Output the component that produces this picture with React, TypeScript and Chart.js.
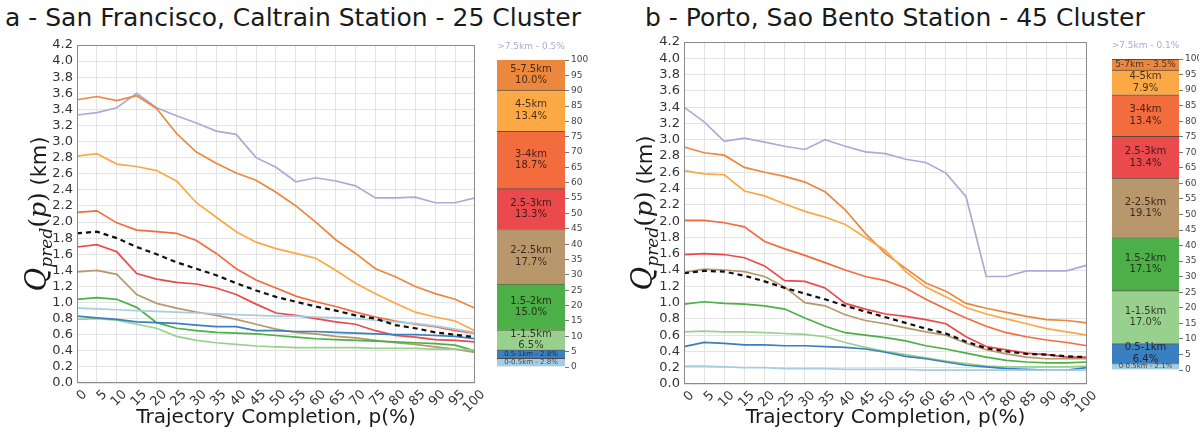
import React, { useEffect, useRef } from "react";
import { Chart, registerables } from "chart.js";

Chart.register(...registerables);

// ---------- data ----------
const completion = [0, 5, 10, 15, 20, 25, 30, 35, 40, 45, 50, 55, 60, 65, 70, 75, 80, 85, 90, 95, 100];

// band order: bottom (shortest) -> top (longest)
const bandNamesSF = ["0-0.5km", "0.5-1km", "1-1.5km", "1.5-2km", "2-2.5km", "2.5-3km", "3-4km", "4-5km", "5-7.5km", ">7.5km"];
const bandNamesPT = ["0-0.5km", "0.5-1km", "1-1.5km", "1.5-2km", "2-2.5km", "2.5-3km", "3-4km", "4-5km", "5-7km", ">7.5km"];
const bandSharesSF = [2.8, 2.8, 6.5, 15.0, 17.7, 13.3, 18.7, 13.4, 10.0, 0.5];
const bandSharesPT = [2.1, 6.4, 17.0, 17.1, 19.1, 13.4, 13.4, 7.9, 3.5, 0.1];
const bandColors = ["#a6cee3", "#3a7fbf", "#98d18e", "#4daf47", "#b8976c", "#ea4a4c", "#f26c3e", "#fca845", "#ec883d", "#b1a8d7"];

// San Francisco quantile curves (km)
const sf0to05 = [0.93, 0.92, 0.91, 0.90, 0.89, 0.88, 0.87, 0.86, 0.85, 0.84, 0.83, 0.83, 0.82, 0.81, 0.80, 0.78, 0.76, 0.74, 0.71, 0.67, 0.63];
const sf05to1 = [0.83, 0.81, 0.79, 0.76, 0.75, 0.74, 0.72, 0.70, 0.70, 0.65, 0.65, 0.64, 0.64, 0.63, 0.62, 0.61, 0.60, 0.60, 0.59, 0.58, 0.55];
const sf1to15 = [0.79, 0.80, 0.78, 0.73, 0.68, 0.58, 0.53, 0.50, 0.48, 0.46, 0.45, 0.44, 0.44, 0.44, 0.44, 0.43, 0.43, 0.43, 0.42, 0.42, 0.41];
const sf15to2 = [1.04, 1.06, 1.04, 0.94, 0.75, 0.68, 0.65, 0.63, 0.62, 0.61, 0.59, 0.57, 0.55, 0.54, 0.53, 0.52, 0.51, 0.50, 0.49, 0.47, 0.40];
const sf2to25 = [1.38, 1.40, 1.35, 1.10, 0.99, 0.93, 0.88, 0.84, 0.79, 0.73, 0.67, 0.63, 0.61, 0.58, 0.56, 0.53, 0.50, 0.48, 0.45, 0.42, 0.38];
const sf25to3 = [1.69, 1.72, 1.63, 1.36, 1.29, 1.25, 1.23, 1.18, 1.10, 0.98, 0.87, 0.84, 0.80, 0.76, 0.73, 0.65, 0.59, 0.57, 0.54, 0.53, 0.51];
const sf3to4 = [2.12, 2.14, 1.99, 1.90, 1.88, 1.86, 1.77, 1.61, 1.42, 1.28, 1.18, 1.08, 1.01, 0.95, 0.88, 0.82, 0.77, 0.73, 0.70, 0.65, 0.62];
const sf4to5 = [2.82, 2.85, 2.72, 2.69, 2.64, 2.51, 2.24, 2.06, 1.88, 1.75, 1.67, 1.61, 1.55, 1.40, 1.24, 1.11, 0.99, 0.88, 0.82, 0.77, 0.65];
const sf5to75 = [3.52, 3.56, 3.51, 3.57, 3.41, 3.10, 2.87, 2.73, 2.61, 2.52, 2.37, 2.20, 2.00, 1.78, 1.61, 1.42, 1.32, 1.20, 1.11, 1.04, 0.93];
const sfOver75 = [3.33, 3.36, 3.42, 3.60, 3.42, 3.32, 3.23, 3.13, 3.09, 2.80, 2.68, 2.50, 2.55, 2.51, 2.45, 2.30, 2.30, 2.31, 2.24, 2.24, 2.30];
const sfMean = [1.86, 1.88, 1.80, 1.69, 1.60, 1.50, 1.42, 1.34, 1.24, 1.15, 1.07, 1.01, 0.95, 0.90, 0.84, 0.80, 0.72, 0.68, 0.63, 0.60, 0.57];

// Porto quantile curves (km)
const pt0to05 = [0.22, 0.22, 0.21, 0.20, 0.20, 0.19, 0.19, 0.19, 0.18, 0.18, 0.18, 0.18, 0.17, 0.17, 0.17, 0.17, 0.17, 0.17, 0.17, 0.17, 0.17];
const pt05to1 = [0.46, 0.51, 0.50, 0.48, 0.48, 0.47, 0.47, 0.46, 0.45, 0.43, 0.39, 0.34, 0.31, 0.27, 0.23, 0.21, 0.19, 0.18, 0.17, 0.17, 0.20];
const pt1to15 = [0.64, 0.65, 0.64, 0.64, 0.63, 0.62, 0.61, 0.58, 0.51, 0.45, 0.40, 0.36, 0.32, 0.28, 0.25, 0.22, 0.21, 0.21, 0.21, 0.21, 0.22];
const pt15to2 = [0.98, 1.01, 0.99, 0.98, 0.96, 0.92, 0.81, 0.71, 0.63, 0.60, 0.57, 0.53, 0.47, 0.43, 0.38, 0.33, 0.29, 0.27, 0.26, 0.26, 0.27];
const pt2to25 = [1.37, 1.41, 1.40, 1.38, 1.32, 1.19, 1.00, 0.96, 0.85, 0.78, 0.74, 0.69, 0.64, 0.60, 0.50, 0.42, 0.37, 0.33, 0.31, 0.31, 0.31];
const pt25to3 = [1.59, 1.60, 1.59, 1.55, 1.45, 1.27, 1.26, 1.18, 0.99, 0.92, 0.86, 0.83, 0.79, 0.74, 0.58, 0.46, 0.42, 0.38, 0.36, 0.33, 0.33];
const pt3to4 = [2.01, 2.01, 1.98, 1.93, 1.75, 1.66, 1.58, 1.49, 1.40, 1.32, 1.27, 1.18, 1.04, 0.92, 0.81, 0.71, 0.63, 0.58, 0.54, 0.51, 0.47];
const pt4to5 = [2.62, 2.58, 2.57, 2.37, 2.31, 2.21, 2.12, 2.05, 1.96, 1.80, 1.64, 1.38, 1.19, 1.07, 0.94, 0.86, 0.80, 0.74, 0.68, 0.64, 0.60];
const pt5to7 = [2.91, 2.84, 2.81, 2.66, 2.60, 2.55, 2.48, 2.36, 2.14, 1.85, 1.60, 1.42, 1.24, 1.14, 0.99, 0.93, 0.88, 0.83, 0.79, 0.78, 0.75];
const ptOver75 = [3.40, 3.22, 2.98, 3.02, 2.97, 2.92, 2.88, 3.00, 2.92, 2.85, 2.83, 2.76, 2.72, 2.59, 2.30, 1.32, 1.32, 1.39, 1.39, 1.39, 1.46];
const ptMean = [1.36, 1.39, 1.38, 1.33, 1.26, 1.18, 1.11, 1.04, 0.96, 0.89, 0.82, 0.75, 0.68, 0.62, 0.52, 0.44, 0.40, 0.37, 0.36, 0.34, 0.33];

const sfSeries = [sf0to05, sf05to1, sf1to15, sf15to2, sf2to25, sf25to3, sf3to4, sf4to5, sf5to75, sfOver75];
const ptSeries = [pt0to05, pt05to1, pt1to15, pt15to2, pt2to25, pt25to3, pt3to4, pt4to5, pt5to7, ptOver75];

const titleSF = "a - San Francisco, Caltrain Station - 25 Cluster";
const titlePT = "b - Porto, Sao Bento Station - 45 Cluster";
const xTitle = "Trajectory Completion, p(%)";

// ---------- plugins ----------
const framePlugin = {
  id: "frame",
  afterDraw(chart: any) {
    const { ctx, chartArea: a } = chart;
    ctx.save();
    ctx.strokeStyle = "#8a8a8a";
    ctx.lineWidth = 1;
    ctx.strokeRect(a.left + 0.5, a.top + 0.5, a.right - a.left - 1, a.bottom - a.top - 1);
    ctx.restore();
  },
};

const yTitlePlugin = {
  id: "yTitle",
  afterDraw(chart: any, _args: any, opts: any) {
    const { ctx, chartArea: a } = chart;
    const cx = opts.x;
    const cy = (a.top + a.bottom) / 2;
    const parts = [
      { t: "Q", f: 'italic 29px "DejaVu Serif"', dy: 0 },
      { t: "pred", f: 'italic 17px "DejaVu Serif"', dy: 6 },
      { t: "(", f: '25px "DejaVu Serif"', dy: 0 },
      { t: "p", f: 'italic 25px "DejaVu Serif"', dy: 0 },
      { t: ")", f: '25px "DejaVu Serif"', dy: 0 },
      { t: " (km)", f: '21px "DejaVu Sans"', dy: 0 },
    ];
    ctx.save();
    let total = 0;
    const widths = parts.map((p) => {
      ctx.font = p.f;
      const w = ctx.measureText(p.t).width;
      total += w;
      return w;
    });
    ctx.translate(cx, cy);
    ctx.rotate(-Math.PI / 2);
    ctx.fillStyle = "#1a1a1a";
    ctx.textBaseline = "alphabetic";
    let x = -total / 2;
    parts.forEach((p, i) => {
      ctx.font = p.f;
      ctx.fillText(p.t, x, 9 + p.dy);
      x += widths[i];
    });
    ctx.restore();
  },
};

const segmentLabelPlugin = {
  id: "segLabels",
  afterDatasetsDraw(chart: any, _args: any, opts: any) {
    const { ctx, chartArea } = chart;
    const specs = opts.specs || [];
    ctx.save();
    ctx.textAlign = "center";
    ctx.textBaseline = "middle";
    chart.data.datasets.forEach((_ds: any, i: number) => {
      const spec = specs[i];
      if (!spec) return;
      const el = chart.getDatasetMeta(i).data[0];
      if (!el) return;
      const { x, y, base } = el.getProps(["x", "y", "base"], true);
      ctx.font = `${spec.size}px "DejaVu Sans"`;
      ctx.fillStyle = spec.color;
      if (spec.above) {
        ctx.fillText(spec.lines[0], x, chartArea.top - 13);
        return;
      }
      const mid = (y + base) / 2;
      const lh = spec.size + 1.5;
      const n = spec.lines.length;
      spec.lines.forEach((ln: string, k: number) => {
        ctx.fillText(ln, x, mid + (k - (n - 1) / 2) * lh);
      });
    });
    ctx.restore();
  },
};

// ---------- components ----------
type LineProps = {
  left: number;
  width: number;
  padTop: number;
  padRight: number;
  yAxisWidth: number;
  xAxisHeight: number;
  series: number[][];
  mean: number[];
  yTitleX: number;
};

function QuantileChart(props: LineProps) {
  const ref = useRef<HTMLCanvasElement>(null);
  useEffect(() => {
    const datasets: any[] = [
      {
        data: props.mean,
        borderColor: "#111",
        borderDash: [5, 4],
        borderWidth: 2.2,
        pointRadius: 0,
        fill: false,
      },
    ];
    props.series.forEach((s, i) => {
      datasets.push({
        data: s,
        borderColor: bandColors[i],
        borderWidth: 1.7,
        pointRadius: 0,
        fill: false,
      });
    });
    const tickFont = { family: '"DejaVu Sans"', size: 13 };
    const chart = new Chart(ref.current as HTMLCanvasElement, {
      type: "line",
      data: { labels: completion.map(String), datasets },
      plugins: [framePlugin, yTitlePlugin],
      options: {
        animation: false,
        responsive: false,
        layout: { padding: { top: props.padTop, right: props.padRight, left: 0, bottom: 0 } },
        plugins: {
          legend: { display: false },
          tooltip: { enabled: false },
          yTitle: { x: props.yTitleX },
        } as any,
        scales: {
          x: {
            grid: { color: "#e3e3e3", drawTicks: false },
            border: { display: false },
            ticks: {
              autoSkip: false,
              minRotation: 45,
              maxRotation: 45,
              labelOffset: 8,
              padding: 4,
              color: "#333",
              font: tickFont,
            },
            title: {
              display: true,
              text: xTitle,
              color: "#1a1a1a",
              font: { family: '"DejaVu Sans"', size: 20 },
              padding: { top: 0, bottom: 4 },
            },
            afterFit: (s: any) => {
              s.height = props.xAxisHeight;
            },
          },
          y: {
            min: 0,
            max: 4.2,
            grid: { color: "#e3e3e3", drawTicks: false },
            border: { display: false },
            ticks: {
              stepSize: 0.2,
              autoSkip: false,
              padding: 4,
              color: "#333",
              font: tickFont,
              callback: (v: any) => Number(v).toFixed(1),
            },
            afterFit: (s: any) => {
              s.width = props.yAxisWidth;
            },
          },
        },
      },
    });
    return () => chart.destroy();
  }, []);
  return (
    <canvas
      ref={ref}
      width={props.width}
      height={434}
      style={{ position: "absolute", left: props.left, top: 0, width: props.width, height: 434 }}
    />
  );
}

type BarProps = {
  left: number;
  top: number;
  width: number;
  height: number;
  pad: { left: number; top: number; right: number; bottom: number };
  axisWidth: number;
  names: string[];
  shares: number[];
};

function ShareBar(props: BarProps) {
  const ref = useRef<HTMLCanvasElement>(null);
  useEffect(() => {
    const last = props.names.length - 1;
    const datasets = props.shares.map((v, i) => ({
      label: props.names[i],
      data: [v],
      backgroundColor: bandColors[i],
      borderColor: i === last ? "#6b5fa8" : "rgba(50,25,20,0.75)",
      borderWidth: { top: 1, left: 0, right: 0, bottom: 0 },
      borderSkipped: false,
      barPercentage: 1,
      categoryPercentage: 1,
    }));
    const specs = props.shares.map((v, i) => {
      const pct = `${v.toFixed(1)}%`;
      if (i === last) return { above: true, lines: [`${props.names[i]} - ${pct}`], size: 9, color: "#b1a8d7" };
      if (v < 5) return { lines: [`${props.names[i]} - ${pct}`], size: v < 3 ? 7 : 9, color: "rgba(20,10,10,0.7)" };
      return { lines: [props.names[i], pct], size: 10, color: "rgba(20,10,10,0.78)" };
    });
    const chart = new Chart(ref.current as HTMLCanvasElement, {
      type: "bar",
      data: { labels: [""], datasets: datasets as any },
      plugins: [segmentLabelPlugin],
      options: {
        animation: false,
        responsive: false,
        layout: { padding: props.pad },
        plugins: {
          legend: { display: false },
          tooltip: { enabled: false },
          segLabels: { specs },
        } as any,
        scales: {
          x: { stacked: true, display: false },
          y: {
            stacked: true,
            position: "right",
            min: 0,
            max: 100,
            border: { display: false },
            grid: { drawOnChartArea: false, tickLength: 4, color: "#777" },
            ticks: {
              stepSize: 5,
              autoSkip: false,
              padding: 2,
              color: "#444",
              font: { family: '"DejaVu Sans"', size: 9 },
            },
            afterFit: (s: any) => {
              s.width = props.axisWidth;
            },
          },
        },
      },
    });
    return () => chart.destroy();
  }, []);
  return (
    <canvas
      ref={ref}
      width={props.width}
      height={props.height}
      style={{ position: "absolute", left: props.left, top: props.top, width: props.width, height: props.height }}
    />
  );
}

const titleStyle: React.CSSProperties = {
  position: "absolute",
  top: 3,
  fontFamily: '"DejaVu Sans", sans-serif',
  fontSize: 25,
  lineHeight: "30px",
  color: "#1a1a1a",
  whiteSpace: "nowrap",
};

export default function App() {
  return (
    <div
      style={{
        position: "fixed",
        left: 0,
        top: 0,
        width: 1204,
        height: 434,
        background: "#ffffff",
        overflow: "hidden",
      }}
    >
      <div style={{ ...titleStyle, left: 5 }}>{titleSF}</div>
      <div style={{ ...titleStyle, left: 645 }}>{titlePT}</div>
      <QuantileChart
        left={0}
        width={490}
        padTop={45}
        padRight={7}
        yAxisWidth={77}
        xAxisHeight={51}
        series={sfSeries}
        mean={sfMean}
        yTitleX={37}
      />
      <ShareBar
        left={490}
        top={40}
        width={110}
        height={340}
        pad={{ left: 7, top: 20, right: 10, bottom: 13 }}
        axisWidth={25}
        names={bandNamesSF}
        shares={bandSharesSF}
      />
      <QuantileChart
        left={605}
        width={497}
        padTop={42}
        padRight={5}
        yAxisWidth={79}
        xAxisHeight={50}
        series={ptSeries}
        mean={ptMean}
        yTitleX={38}
      />
      <ShareBar
        left={1100}
        top={40}
        width={104}
        height={340}
        pad={{ left: 12, top: 19, right: 5, bottom: 10 }}
        axisWidth={20}
        names={bandNamesPT}
        shares={bandSharesPT}
      />
    </div>
  );
}
